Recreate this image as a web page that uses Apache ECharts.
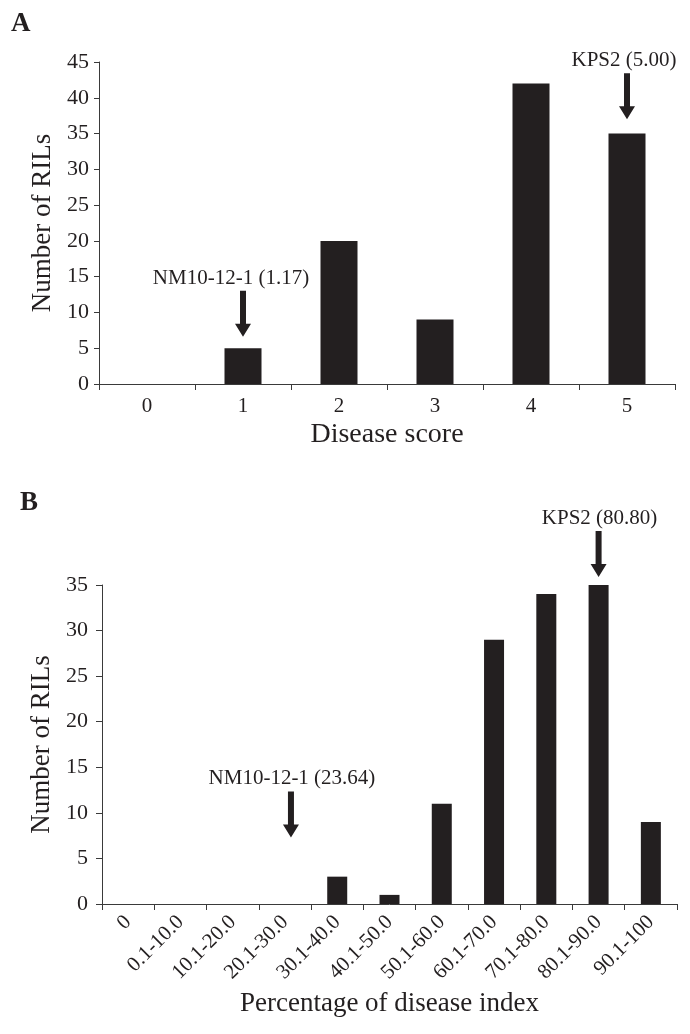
<!DOCTYPE html>
<html>
<head>
<meta charset="utf-8">
<script src="https://cdn.jsdelivr.net/npm/echarts@6/dist/echarts.min.js"></script>
<style>
html,body{margin:0;padding:0;background:#fff;}
#chart{width:690px;height:1034px;}
</style>
</head>
<body>
<div id="chart"></div>
<script>
// ---- data ----
const catsA = ['0', '1', '2', '3', '4', '5'];
const valsA = [0, 5, 20, 9, 42, 35];
const catsB = ['0', '0.1-10.0', '10.1-20.0', '20.1-30.0', '30.1-40.0', '40.1-50.0',
               '50.1-60.0', '60.1-70.0', '70.1-80.0', '80.1-90.0', '90.1-100'];
const valsB = [0, 0, 0, 0, 3, 1, 11, 29, 34, 35, 9];
const yMaxA = 45, yMaxB = 35, yStep = 5;
const annotTextA = ['NM10-12-1 (1.17)', 'KPS2 (5.00)'];
const annotCatA = ['1', '5'];
const annotTipA = [6.6, 37.0];
const annotTextB = ['NM10-12-1 (23.64)', 'KPS2 (80.80)'];
const annotCatB = ['20.1-30.0', '80.1-90.0'];
const annotTipB = [7.3, 35.0];

const FONT = "'Liberation Serif','Times New Roman',serif";
const INK = '#231f20';
const AXIS = '#3a3a3a';
const ARROW = 'path://M5,0 L11,0 L11,33 L16,33 L8,46 L0,33 L5,33 Z';

// styling per arrow: [arrowDx, arrowExtraDy, labelDx]
function arrows(texts, cats, tips, style) {
  return texts.map((t, i) => ({
    coord: [cats[i], tips[i]],
    symbol: ARROW,
    symbolSize: [16, 46],
    symbolOffset: [style[i][0], -23 + style[i][1]],
    itemStyle: { color: INK },
    label: {
      show: true, position: 'top', distance: 2,
      formatter: t, color: INK, fontFamily: FONT, fontSize: 21,
      offset: [style[i][2], 0]
    }
  }));
}

const chart = echarts.init(document.getElementById('chart'), null, { renderer: 'canvas' });
chart.setOption({
  backgroundColor: '#fff',
  animation: false,
  textStyle: { fontFamily: FONT, color: INK },
  graphic: [
    { type: 'text', left: 11, top: 11, style: { text: 'A', font: "bold 27px 'Liberation Serif', serif", fill: INK } },
    { type: 'text', left: 20, top: 490, style: { text: 'B', font: "bold 27px 'Liberation Serif', serif", fill: INK } }
  ],
  grid: [
    { left: 99, top: 62, right: 15, bottom: 650, containLabel: false },
    { left: 102, top: 585, right: 13, bottom: 130, containLabel: false }
  ],
  xAxis: [
    {
      gridIndex: 0, type: 'category', data: catsA, boundaryGap: true,
      name: 'Disease score', nameLocation: 'middle', nameGap: 37,
      nameTextStyle: { fontFamily: FONT, fontSize: 28, color: INK },
      axisLine: { lineStyle: { color: AXIS, width: 1 } },
      axisTick: { show: true, length: 6, lineStyle: { color: AXIS } },
      axisLabel: { fontFamily: FONT, fontSize: 21, color: INK, margin: 12 },
      splitLine: { show: false }
    },
    {
      gridIndex: 1, type: 'category', data: catsB, boundaryGap: true,
      name: 'Percentage of disease index', nameLocation: 'middle', nameGap: 86,
      nameTextStyle: { fontFamily: FONT, fontSize: 27, color: INK },
      axisLine: { lineStyle: { color: AXIS, width: 1 } },
      axisTick: { show: true, length: 6, lineStyle: { color: AXIS } },
      axisLabel: { fontFamily: FONT, fontSize: 21, color: INK, margin: 15, rotate: 45, interval: 0 },
      splitLine: { show: false }
    }
  ],
  yAxis: [
    {
      gridIndex: 0, type: 'value', min: 0, max: yMaxA, interval: yStep,
      name: 'Number of RILs', nameLocation: 'middle', nameGap: 39, nameRotate: 90,
      nameTextStyle: { fontFamily: FONT, fontSize: 27, color: INK },
      axisLine: { show: true, lineStyle: { color: AXIS, width: 1 } },
      axisTick: { show: true, length: 5, lineStyle: { color: AXIS } },
      axisLabel: { fontFamily: FONT, fontSize: 22, color: INK, margin: 10 },
      splitLine: { show: false }
    },
    {
      gridIndex: 1, type: 'value', min: 0, max: yMaxB, interval: yStep,
      name: 'Number of RILs', nameLocation: 'middle', nameGap: 41, nameRotate: 90,
      nameTextStyle: { fontFamily: FONT, fontSize: 27, color: INK },
      axisLine: { show: true, lineStyle: { color: AXIS, width: 1 } },
      axisTick: { show: true, length: 6, lineStyle: { color: AXIS } },
      axisLabel: { fontFamily: FONT, fontSize: 22, color: INK, margin: 14 },
      splitLine: { show: false }
    }
  ],
  series: [
    {
      type: 'bar', xAxisIndex: 0, yAxisIndex: 0, data: valsA, barWidth: 37,
      itemStyle: { color: INK },
      markPoint: { silent: true, data: arrows(annotTextA, annotCatA, annotTipA, [[0, 0, -12], [0, 0, -3]]) }
    },
    {
      type: 'bar', xAxisIndex: 1, yAxisIndex: 1, data: valsB, barWidth: 20,
      itemStyle: { color: INK },
      markPoint: { silent: true, data: arrows(annotTextB, annotCatB, annotTipB, [[6, 0, 1], [0, -8, 1]]) }
    }
  ]
});
</script>
</body>
</html>
